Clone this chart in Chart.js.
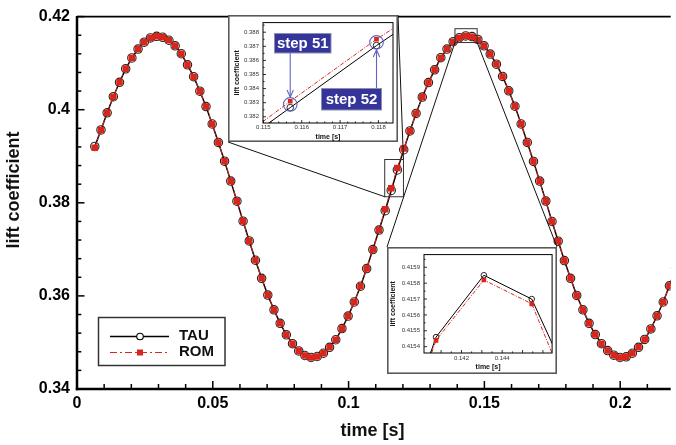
<!DOCTYPE html>
<html><head><meta charset="utf-8">
<script src="https://cdn.jsdelivr.net/npm/chart.js@4/dist/chart.umd.min.js"></script>
<style>
html,body{margin:0;padding:0;background:#fff;overflow:hidden}
#wrap{position:relative;width:676px;height:445px}
canvas{position:absolute}
</style></head><body>
<div id="wrap">
<canvas id="main" width="676" height="445" style="left:0;top:0"></canvas>
<canvas id="in1" width="170" height="127" style="left:228px;top:15px"></canvas>
<canvas id="in2" width="170" height="127" style="left:387px;top:247px"></canvas>
</div>
<script>
// ---- data ----
const time = [
 0.00655,0.00883,0.01110,0.01338,0.01565,0.01793,0.02020,0.02248,0.02475,0.02703,
 0.02930,0.03158,0.03385,0.03613,0.03840,0.04068,0.04295,0.04523,0.04750,0.04978,
 0.05205,0.05433,0.05660,0.05888,0.06115,0.06343,0.06570,0.06798,0.07025,0.07253,
 0.07480,0.07708,0.07935,0.08163,0.08390,0.08618,0.08845,0.09073,0.09300,0.09528,
 0.09755,0.09983,0.10210,0.10438,0.10665,0.10893,0.11120,0.11348,0.11570,0.11795,
 0.12030,0.12258,0.12485,0.12713,0.12940,0.13168,0.13395,0.13623,0.13850,0.14075,
 0.14310,0.14545,0.14760,0.14988,0.15215,0.15443,0.15670,0.15898,0.16125,0.16353,
 0.16580,0.16808,0.17035,0.17263,0.17490,0.17718,0.17945,0.18173,0.18400,0.18628,
 0.18855,0.19083,0.19310,0.19538,0.19765,0.19993,0.20220,0.20448,0.20675,0.20903,
 0.21130,0.21358,0.21585,0.21813,0.22040];
const tauLift = [
 0.39210,0.39566,0.39933,0.40279,0.40589,0.40878,0.41111,0.41302,0.41450,0.41541,
 0.41577,0.41556,0.41492,0.41372,0.41202,0.40963,0.40709,0.40398,0.40068,0.39693,
 0.39297,0.38895,0.38466,0.38035,0.37605,0.37181,0.36766,0.36377,0.36017,0.35700,
 0.35411,0.35164,0.34974,0.34819,0.34720,0.34677,0.34698,0.34768,0.34895,0.35058,
 0.35297,0.35566,0.35869,0.36207,0.36588,0.36995,0.37415,0.37830,0.38265,0.38705,
 0.39140,0.39545,0.39920,0.40271,0.40582,0.40857,0.41118,0.41302,0.41462,0.41546,
 0.41585,0.41570,0.41510,0.41372,0.41196,0.40978,0.40715,0.40406,0.40074,0.39693,
 0.39297,0.38889,0.38466,0.38036,0.37598,0.37175,0.36758,0.36377,0.36010,0.35700,
 0.35411,0.35170,0.34974,0.34825,0.34726,0.34677,0.34692,0.34768,0.34895,0.35064,
 0.35291,0.35573,0.35869,0.36216,0.36600];
const romLift = [
 0.39185,0.39566,0.39933,0.40279,0.40589,0.40878,0.41111,0.41302,0.41450,0.41541,
 0.41577,0.41556,0.41492,0.41372,0.41202,0.40963,0.40709,0.40398,0.40068,0.39693,
 0.39297,0.38895,0.38466,0.38035,0.37605,0.37181,0.36766,0.36377,0.36017,0.35700,
 0.35411,0.35164,0.34974,0.34819,0.34720,0.34677,0.34698,0.34768,0.34895,0.35058,
 0.35297,0.35566,0.35869,0.36207,0.36588,0.36995,0.37415,0.37860,0.38310,0.38750,
 0.39165,0.39545,0.39920,0.40271,0.40582,0.40857,0.41118,0.41302,0.41460,0.41544,
 0.41582,0.41567,0.41500,0.41372,0.41196,0.40978,0.40715,0.40406,0.40074,0.39693,
 0.39297,0.38889,0.38466,0.38036,0.37598,0.37175,0.36758,0.36377,0.36010,0.35700,
 0.35411,0.35170,0.34974,0.34825,0.34726,0.34677,0.34692,0.34768,0.34895,0.35064,
 0.35291,0.35573,0.35869,0.36216,0.36600];
const seriesNames = ['TAU','ROM'];
const xTicksMain = [0,0.05,0.1,0.15,0.2];
const yTicksMain = [0.34,0.36,0.38,0.40,0.42];
const xTicksIn1 = [0.115,0.116,0.117,0.118];
const yTicksIn1 = [0.382,0.383,0.384,0.385,0.386,0.387,0.388];
const xTicksIn2 = [0.142,0.144];
const yTicksIn2 = [0.4154,0.4155,0.4156,0.4157,0.4158,0.4159];
const stepLabels = ['step 51','step 52'];
const stepIndex = [48,49];

// ---- styling ----
const RED = '#d9261c';
const FONT = "'Liberation Sans', Arial, Helvetica, sans-serif";
Chart.defaults.font.family = FONT;
Chart.defaults.color = '#000';

const pts = arr => time.map((t,i)=>({x:t,y:arr[i]}));

function line(ctx,x1,y1,x2,y2){ctx.beginPath();ctx.moveTo(x1,y1);ctx.lineTo(x2,y2);ctx.stroke();}

function drawInnerTicks(ctx, chart, xs, ys){
  const a = chart.chartArea, X = chart.scales.x, Y = chart.scales.y;
  const eps = 1e-9;
  // x ticks
  let start = Math.ceil((X.min - eps)/xs.minor);
  for(let i=start; i*xs.minor <= X.max + eps; i++){
    const v = i*xs.minor;
    const isMaj = Math.abs(Math.round(v/xs.major)*xs.major - v) < xs.minor*0.01;
    const px = X.getPixelForValue(v);
    line(ctx, px, a.bottom, px, a.bottom - (isMaj ? xs.majLen : xs.minLen));
  }
  start = Math.ceil((Y.min - eps)/ys.minor);
  for(let i=start; i*ys.minor <= Y.max + eps; i++){
    const v = i*ys.minor;
    const isMaj = Math.abs(Math.round(v/ys.major)*ys.major - v) < ys.minor*0.01;
    const py = Y.getPixelForValue(v);
    line(ctx, a.left, py, a.left + (isMaj ? ys.majLen : ys.minLen), py);
  }
}

const inset1Box = {left:228, top:15, w:170, h:127};
const inset2Box = {left:387, top:247, w:170, h:127};

const mainDecor = {
  id:'mainDecor',
  afterDatasetsDraw(chart){
    const {ctx, chartArea:a, scales:{x,y}} = chart;
    ctx.save();
    ctx.strokeStyle='#000'; ctx.lineWidth=1.5;
    drawInnerTicks(ctx, chart, {minor:0.01, major:0.05, majLen:8, minLen:5},
                              {minor:0.004, major:0.02, majLen:7.5, minLen:4.3});
    // frame
    ctx.lineWidth=2.5;
    line(ctx, a.left, a.top-0.5, a.left, a.bottom+1.2);
    line(ctx, a.left-1.2, a.bottom, a.right, a.bottom);
    ctx.lineWidth=1.6;
    line(ctx, a.left, a.top, a.right, a.top);
    // zoom boxes
    ctx.strokeStyle='#333'; ctx.lineWidth=1;
    const b1 = {l:x.getPixelForValue(0.1133), r:x.getPixelForValue(0.1202), t:y.getPixelForValue(0.3893), b:y.getPixelForValue(0.3813)};
    const b2 = {l:x.getPixelForValue(0.13916), r:x.getPixelForValue(0.14734), t:y.getPixelForValue(0.41740), b:y.getPixelForValue(0.41443)};
    ctx.strokeRect(b1.l, b1.t, b1.r-b1.l, b1.b-b1.t);
    ctx.strokeRect(b2.l, b2.t, b2.r-b2.l, b2.b-b2.t);
    ctx.strokeStyle='#111';
    line(ctx, b1.l, b1.b, inset1Box.left, inset1Box.top+inset1Box.h);
    line(ctx, b1.r, b1.t, inset1Box.left+inset1Box.w, inset1Box.top);
    line(ctx, b2.l, b2.b, inset2Box.left, inset2Box.top);
    line(ctx, b2.r, b2.b, inset2Box.left+inset2Box.w, inset2Box.top);
    // legend
    const L = {x:98.5, y:317.5, w:126.5, h:48};
    ctx.fillStyle='#fff'; ctx.fillRect(L.x, L.y, L.w, L.h);
    ctx.strokeStyle='#333'; ctx.lineWidth=1.5; ctx.strokeRect(L.x, L.y, L.w, L.h);
    ctx.strokeStyle='#000'; ctx.lineWidth=1.5;
    line(ctx, 110, 336.5, 169, 336.5);
    ctx.fillStyle='#fff'; ctx.beginPath(); ctx.arc(140, 336.5, 3.3, 0, 2*Math.PI); ctx.fill(); ctx.lineWidth=1.1; ctx.stroke();
    ctx.strokeStyle=RED; ctx.lineWidth=1.2; ctx.setLineDash([7,3,2,3]);
    line(ctx, 110, 352.5, 169, 352.5);
    ctx.setLineDash([]);
    ctx.fillStyle=RED; ctx.fillRect(137, 349.5, 6, 6);
    ctx.fillStyle='#111'; ctx.font = "bold 15px "+FONT; ctx.textBaseline='middle'; ctx.textAlign='left';
    ctx.fillText(seriesNames[0], 179, 335.5);
    ctx.fillText(seriesNames[1], 179, 351.5);
    // axis titles
    ctx.font = "bold 18px "+FONT; ctx.textAlign='center';
    ctx.fillText('time [s]', 372.5, 431);
    ctx.save(); ctx.translate(14, 190); ctx.rotate(-Math.PI/2);
    ctx.fillText('lift coefficient', 0, 0); ctx.restore();
    ctx.restore();
  }
};

new Chart(document.getElementById('main'), {
  type:'line',
  data:{datasets:[
    {label:seriesNames[0], data:pts(tauLift), borderColor:'#000', borderWidth:1.5, tension:0,
     pointStyle:'circle', pointRadius:4.2, pointBorderColor:'#222', pointBorderWidth:1.1,
     pointBackgroundColor:'rgba(255,255,255,0)', order:2},
    {label:seriesNames[1], data:pts(romLift), borderColor:RED, borderWidth:1, borderDash:[6,2,1.5,2], tension:0,
     pointStyle:'rect', pointRadius:4.6, pointBorderWidth:0, pointBackgroundColor:RED, order:1}
  ]},
  options:{
    responsive:false, animation:false, devicePixelRatio:1, events:[],
    layout:{padding:{top:11, right:0, left:0, bottom:0}},
    plugins:{legend:{display:false}, tooltip:{enabled:false}},
    scales:{
      x:{type:'linear', min:0, max:0.2186,
         grid:{display:false, drawTicks:false}, border:{display:false},
         afterBuildTicks:s=>{s.ticks = xTicksMain.map(v=>({value:v}));},
         afterFit:s=>{s.height=56;},
         ticks:{autoSkip:false, maxRotation:0, padding:5, color:'#000',
                font:{size:16, weight:'bold'}, callback:v=>String(Math.round(v*100)/100)}},
      y:{type:'linear', min:0.34, max:0.42,
         grid:{display:false, drawTicks:false}, border:{display:false},
         afterBuildTicks:s=>{s.ticks = yTicksMain.map(v=>({value:v}));},
         afterFit:s=>{s.width=77;},
         ticks:{autoSkip:false, padding:7, color:'#000',
                font:{size:16, weight:'bold'}, callback:v=>String(Math.round(v*100)/100)}}
    }
  },
  plugins:[mainDecor]
});

function insetDecor(cfg){
  return {
    id:'insetDecor',
    beforeDraw(chart){
      const ctx=chart.ctx; ctx.save(); ctx.fillStyle='#fff'; ctx.fillRect(0,0,chart.width,chart.height); ctx.restore();
    },
    afterDatasetsDraw(chart){
      const {ctx, chartArea:a} = chart;
      ctx.save();
      ctx.strokeStyle='#000'; ctx.lineWidth=0.8;
      drawInnerTicks(ctx, chart, cfg.xs, cfg.ys);
      ctx.lineWidth=1;
      ctx.strokeRect(a.left, a.top, a.right-a.left, a.bottom-a.top);
      ctx.strokeStyle='#5a5a5a'; ctx.lineWidth=1.6;
      ctx.strokeRect(0.8, 0.8, chart.width-1.6, chart.height-1.6);
      // axis titles
      ctx.fillStyle='#111'; ctx.font="bold 7px "+FONT; ctx.textAlign='center'; ctx.textBaseline='middle';
      ctx.fillText('time [s]', (a.left+a.right)/2, cfg.xTitleY);
      ctx.save(); ctx.translate(cfg.yTitleX, (a.top+a.bottom)/2); ctx.rotate(-Math.PI/2);
      ctx.fillText('lift coefficient', 0, 0); ctx.restore();
      if(cfg.annot) cfg.annot(chart, ctx);
      ctx.restore();
    }
  };
}

function stepAnnot(chart, ctx){
  const X = chart.scales.x, Y = chart.scales.y;
  const BL = '#6262c2';
  const boxes = [{x:46.5, y:18.5, w:56.5, h:19.5}, {x:93.5, y:73.5, w:60, h:21.5}];
  stepIndex.forEach((k, j)=>{
    const px = X.getPixelForValue(time[k]);
    const py = Y.getPixelForValue((tauLift[k]+romLift[k])/2);
    ctx.strokeStyle=BL; ctx.lineWidth=1.1;
    ctx.beginPath(); ctx.arc(px, py, 6.8, 0, 2*Math.PI); ctx.stroke();
    const b = boxes[j];
    if(j===0){
      const y0 = b.y+b.h, y1 = py-7.5;
      line(ctx, px, y0, px, y1);
      ctx.beginPath(); ctx.moveTo(px-3.2, y1-7); ctx.lineTo(px, y1); ctx.lineTo(px+3.2, y1-7); ctx.stroke();
    } else {
      const y0 = b.y, y1 = py+7.5;
      line(ctx, px, y0, px, y1);
      ctx.beginPath(); ctx.moveTo(px-3.2, y1+7); ctx.lineTo(px, y1); ctx.lineTo(px+3.2, y1+7); ctx.stroke();
    }
    ctx.fillStyle='#34349a'; ctx.fillRect(b.x, b.y, b.w, b.h);
    ctx.strokeStyle='#8e8eb4'; ctx.lineWidth=1; ctx.strokeRect(b.x, b.y, b.w, b.h);
    ctx.fillStyle='#fff'; ctx.font="bold 15px "+FONT; ctx.textAlign='center'; ctx.textBaseline='middle';
    ctx.fillText(stepLabels[j], b.x+b.w/2, b.y+b.h/2+0.5);
  });
}

function insetChart(id, o){
  return new Chart(document.getElementById(id), {
    type:'line',
    data:{datasets:[
      {label:seriesNames[0], data:pts(tauLift), borderColor:'#000', borderWidth:1, tension:0,
       pointStyle:'circle', pointRadius:o.cr, pointBorderColor:'#111', pointBorderWidth:0.9,
       pointBackgroundColor:'rgba(255,255,255,0)', order:2},
      {label:seriesNames[1], data:pts(romLift), borderColor:RED, borderWidth:1, borderDash:[4,1.5,1,1.5], tension:0,
       pointStyle:'rect', pointRadius:3.3, pointBorderWidth:0, pointBackgroundColor:RED, order:1}
    ]},
    options:{
      responsive:false, animation:false, devicePixelRatio:1, events:[],
      layout:{padding:{top:o.pt, right:o.pr, left:0, bottom:0}},
      plugins:{legend:{display:false}, tooltip:{enabled:false}},
      scales:{
        x:{type:'linear', min:o.xmin, max:o.xmax,
           grid:{display:false, drawTicks:false}, border:{display:false},
           afterBuildTicks:s=>{s.ticks = o.xt.map(v=>({value:v}));},
           afterFit:s=>{s.height=o.xh;},
           ticks:{autoSkip:false, maxRotation:0, padding:o.xpad, color:'#333', font:{size:6}, callback:v=>v.toFixed(3)}},
        y:{type:'linear', min:o.ymin, max:o.ymax,
           grid:{display:false, drawTicks:false}, border:{display:false},
           afterBuildTicks:s=>{s.ticks = o.yt.map(v=>({value:v}));},
           afterFit:s=>{s.width=o.yw;},
           ticks:{autoSkip:false, padding:4, color:'#333', font:{size:6}, callback:v=>v.toFixed(o.ydec)}}
      }
    },
    plugins:[insetDecor(o.deco)]
  });
}

insetChart('in1', {xmin:0.11499, xmax:0.11838, ymin:0.38156, ymax:0.38868, xt:xTicksIn1, yt:yTicksIn1, ydec:3,
  pt:6, pr:5, xh:19, yw:35, xpad:1, cr:3.3,
  deco:{xs:{minor:0.0002, major:0.001, majLen:3, minLen:1.6}, ys:{minor:0.0005, major:0.001, majLen:3, minLen:1.6},
        xTitleY:121.7, yTitleX:8.7, annot:stepAnnot}});
insetChart('in2', {xmin:0.14016, xmax:0.14645, ymin:0.41536, ymax:0.41598, xt:xTicksIn2, yt:yTicksIn2, ydec:4,
  pt:5, pr:4, xh:21, yw:37, xpad:1.5, cr:2.8,
  deco:{xs:{minor:0.0005, major:0.001, majLen:3, minLen:1.6}, ys:{minor:0.00005, major:0.0001, majLen:3, minLen:1.6},
        xTitleY:119.7, yTitleX:6.5, annot:null}});
</script>
</body></html>
